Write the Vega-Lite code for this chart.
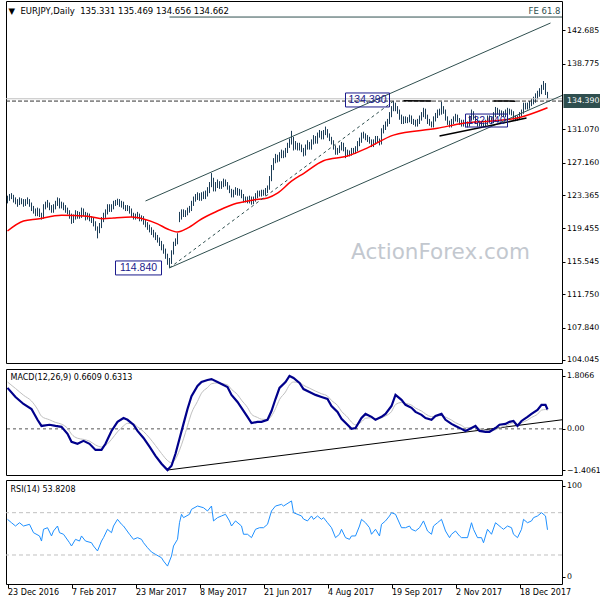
{
"$schema":"https://vega.github.io/schema/vega-lite/v6.json",
"padding":{"left":2,"top":0,"right":0,"bottom":0},
"background":"white",
"spacing":3,
"config":{"view":{"stroke":"black","strokeWidth":1},"axis":{"labelFont":"DejaVu Sans","labelFontSize":7.8,"labelColor":"black","tickColor":"black","domain":false,"grid":false,"tickSize":3,"labelPadding":1.5,"title":null},"text":{"font":"DejaVu Sans"}},
"datasets":{
"bars":[{"i":0,"h":123.3,"l":122.4},{"i":1,"h":123.5,"l":122.7},{"i":2,"h":123.6,"l":122.9},{"i":3,"h":123.4,"l":122.5},{"i":4,"h":123.1,"l":122.3},{"i":5,"h":122.9,"l":122.0},{"i":6,"h":123.1,"l":122.2},{"i":7,"h":123.0,"l":122.3},{"i":8,"h":122.9,"l":122.0},{"i":9,"h":122.9,"l":122.1},{"i":10,"h":123.1,"l":122.3},{"i":11,"h":122.9,"l":122.0},{"i":12,"h":122.5,"l":121.5},{"i":13,"h":122.1,"l":121.2},{"i":14,"h":121.8,"l":120.9},{"i":15,"h":121.9,"l":120.9},{"i":16,"h":121.8,"l":120.8},{"i":17,"h":121.3,"l":120.5},{"i":18,"h":122.3,"l":120.6},{"i":19,"h":122.6,"l":121.7},{"i":20,"h":122.8,"l":121.9},{"i":21,"h":122.5,"l":121.6},{"i":22,"h":122.2,"l":121.3},{"i":23,"h":122.3,"l":121.3},{"i":24,"h":122.7,"l":121.7},{"i":25,"h":123.1,"l":122.1},{"i":26,"h":123.0,"l":121.8},{"i":27,"h":122.6,"l":121.8},{"i":28,"h":122.5,"l":121.6},{"i":29,"h":122.2,"l":121.3},{"i":30,"h":121.9,"l":121.1},{"i":31,"h":121.6,"l":120.6},{"i":32,"h":121.2,"l":120.0},{"i":33,"h":121.1,"l":120.1},{"i":34,"h":121.6,"l":120.5},{"i":35,"h":121.5,"l":120.6},{"i":36,"h":121.4,"l":120.6},{"i":37,"h":121.9,"l":120.7},{"i":38,"h":121.8,"l":120.9},{"i":39,"h":121.4,"l":120.4},{"i":40,"h":121.3,"l":120.5},{"i":41,"h":121.2,"l":120.3},{"i":42,"h":120.9,"l":120.1},{"i":43,"h":120.8,"l":119.7},{"i":44,"h":120.3,"l":119.2},{"i":45,"h":119.7,"l":118.3},{"i":46,"h":120.1,"l":118.9},{"i":47,"h":120.8,"l":119.5},{"i":48,"h":121.3,"l":120.2},{"i":49,"h":121.7,"l":120.7},{"i":50,"h":122.3,"l":121.1},{"i":51,"h":122.3,"l":121.4},{"i":52,"h":122.3,"l":121.4},{"i":53,"h":122.7,"l":121.7},{"i":54,"h":122.8,"l":122.1},{"i":55,"h":122.95,"l":122.2},{"i":56,"h":122.9,"l":122.0},{"i":57,"h":122.7,"l":121.9},{"i":58,"h":122.6,"l":121.7},{"i":59,"h":122.2,"l":121.5},{"i":60,"h":122.2,"l":121.5},{"i":61,"h":122.1,"l":121.2},{"i":62,"h":121.8,"l":120.8},{"i":63,"h":121.3,"l":120.5},{"i":64,"h":121.2,"l":120.5},{"i":65,"h":121.4,"l":120.6},{"i":66,"h":121.2,"l":120.3},{"i":67,"h":121.0,"l":120.3},{"i":68,"h":120.9,"l":119.9},{"i":69,"h":120.5,"l":119.6},{"i":70,"h":120.2,"l":119.3},{"i":71,"h":119.9,"l":119.0},{"i":72,"h":119.6,"l":118.7},{"i":73,"h":119.3,"l":118.4},{"i":74,"h":119.0,"l":118.1},{"i":75,"h":118.7,"l":117.8},{"i":76,"h":118.4,"l":117.4},{"i":77,"h":118.0,"l":116.9},{"i":78,"h":117.6,"l":116.5},{"i":79,"h":117.1,"l":115.9},{"i":80,"h":116.5,"l":115.2},{"i":81,"h":116.0,"l":114.84},{"i":82,"h":116.9,"l":115.3},{"i":83,"h":117.9,"l":116.4},{"i":84,"h":118.3,"l":117.4},{"i":85,"h":118.9,"l":117.6},{"i":86,"h":121.4,"l":120.2},{"i":87,"h":121.7,"l":120.5},{"i":88,"h":121.7,"l":120.8},{"i":89,"h":121.6,"l":120.8},{"i":90,"h":121.9,"l":121.0},{"i":91,"h":122.1,"l":121.3},{"i":92,"h":122.7,"l":121.5},{"i":93,"h":123.2,"l":122.1},{"i":94,"h":123.5,"l":122.6},{"i":95,"h":123.7,"l":122.8},{"i":96,"h":123.6,"l":122.7},{"i":97,"h":123.7,"l":122.7},{"i":98,"h":123.8,"l":122.9},{"i":99,"h":123.9,"l":122.9},{"i":100,"h":124.3,"l":123.2},{"i":101,"h":124.9,"l":123.6},{"i":102,"h":125.95,"l":124.3},{"i":103,"h":125.4,"l":123.8},{"i":104,"h":124.9,"l":123.8},{"i":105,"h":125.2,"l":124.2},{"i":106,"h":125.0,"l":124.1},{"i":107,"h":125.0,"l":124.1},{"i":108,"h":125.3,"l":124.3},{"i":109,"h":125.2,"l":124.4},{"i":110,"h":124.9,"l":124.0},{"i":111,"h":124.5,"l":123.6},{"i":112,"h":124.1,"l":123.1},{"i":113,"h":124.0,"l":123.1},{"i":114,"h":124.3,"l":123.4},{"i":115,"h":124.2,"l":123.3},{"i":116,"h":124.1,"l":123.3},{"i":117,"h":124.0,"l":123.0},{"i":118,"h":123.5,"l":122.5},{"i":119,"h":123.2,"l":122.5},{"i":120,"h":123.2,"l":122.4},{"i":121,"h":123.3,"l":122.4},{"i":122,"h":123.2,"l":122.25},{"i":123,"h":123.2,"l":122.3},{"i":124,"h":123.6,"l":122.6},{"i":125,"h":123.9,"l":123.0},{"i":126,"h":123.9,"l":123.2},{"i":127,"h":124.0,"l":123.2},{"i":128,"h":124.0,"l":123.3},{"i":129,"h":124.2,"l":123.3},{"i":130,"h":124.5,"l":123.6},{"i":131,"h":125.6,"l":124.0},{"i":132,"h":126.9,"l":125.0},{"i":133,"h":127.7,"l":126.3},{"i":134,"h":128.2,"l":127.1},{"i":135,"h":128.1,"l":127.2},{"i":136,"h":128.4,"l":127.3},{"i":137,"h":128.7,"l":127.7},{"i":138,"h":128.6,"l":127.7},{"i":139,"h":128.9,"l":127.8},{"i":140,"h":129.5,"l":128.3},{"i":141,"h":130.0,"l":128.9},{"i":142,"h":130.9,"l":129.3},{"i":143,"h":130.2,"l":128.6},{"i":144,"h":129.7,"l":128.7},{"i":145,"h":129.5,"l":128.6},{"i":146,"h":129.5,"l":128.6},{"i":147,"h":129.3,"l":128.4},{"i":148,"h":128.9,"l":127.9},{"i":149,"h":129.3,"l":128.0},{"i":150,"h":129.8,"l":128.7},{"i":151,"h":129.6,"l":128.7},{"i":152,"h":129.9,"l":128.7},{"i":153,"h":130.4,"l":129.3},{"i":154,"h":130.3,"l":129.4},{"i":155,"h":130.7,"l":129.4},{"i":156,"h":131.0,"l":130.1},{"i":157,"h":130.9,"l":129.9},{"i":158,"h":131.0,"l":129.9},{"i":159,"h":131.4,"l":130.4},{"i":160,"h":131.1,"l":130.1},{"i":161,"h":130.6,"l":129.7},{"i":162,"h":130.2,"l":129.3},{"i":163,"h":129.8,"l":128.7},{"i":164,"h":129.2,"l":128.1},{"i":165,"h":128.9,"l":128.1},{"i":166,"h":129.2,"l":128.3},{"i":167,"h":129.6,"l":128.6},{"i":168,"h":129.5,"l":128.5},{"i":169,"h":129.0,"l":127.7},{"i":170,"h":128.7,"l":127.9},{"i":171,"h":128.6,"l":127.9},{"i":172,"h":128.9,"l":128.0},{"i":173,"h":128.9,"l":128.2},{"i":174,"h":129.1,"l":128.2},{"i":175,"h":129.7,"l":128.5},{"i":176,"h":130.1,"l":129.1},{"i":177,"h":130.7,"l":129.5},{"i":178,"h":130.8,"l":130.0},{"i":179,"h":130.6,"l":129.8},{"i":180,"h":130.4,"l":129.6},{"i":181,"h":130.2,"l":129.4},{"i":182,"h":129.9,"l":129.0},{"i":183,"h":129.9,"l":129.0},{"i":184,"h":130.3,"l":129.3},{"i":185,"h":130.3,"l":129.5},{"i":186,"h":130.0,"l":129.2},{"i":187,"h":131.2,"l":129.3},{"i":188,"h":131.6,"l":130.6},{"i":189,"h":132.0,"l":131.0},{"i":190,"h":132.3,"l":131.4},{"i":191,"h":133.1,"l":131.7},{"i":192,"h":133.8,"l":132.5},{"i":193,"h":134.39,"l":133.2},{"i":194,"h":134.2,"l":133.2},{"i":195,"h":133.8,"l":132.9},{"i":196,"h":133.4,"l":132.2},{"i":197,"h":132.8,"l":131.7},{"i":198,"h":132.6,"l":131.7},{"i":199,"h":132.6,"l":131.8},{"i":200,"h":132.5,"l":131.8},{"i":201,"h":132.8,"l":131.9},{"i":202,"h":132.7,"l":131.7},{"i":203,"h":132.3,"l":131.6},{"i":204,"h":132.2,"l":131.4},{"i":205,"h":132.3,"l":131.4},{"i":206,"h":132.7,"l":131.7},{"i":207,"h":133.1,"l":132.1},{"i":208,"h":133.6,"l":132.5},{"i":209,"h":133.5,"l":132.3},{"i":210,"h":132.8,"l":131.7},{"i":211,"h":132.3,"l":131.5},{"i":212,"h":132.0,"l":131.3},{"i":213,"h":132.6,"l":131.3},{"i":214,"h":133.0,"l":132.0},{"i":215,"h":133.4,"l":132.4},{"i":216,"h":133.5,"l":132.7},{"i":217,"h":134.3,"l":132.8},{"i":218,"h":133.8,"l":132.9},{"i":219,"h":133.4,"l":132.1},{"i":220,"h":132.6,"l":131.6},{"i":221,"h":132.1,"l":131.3},{"i":222,"h":132.3,"l":131.3},{"i":223,"h":132.6,"l":131.7},{"i":224,"h":132.9,"l":132.0},{"i":225,"h":132.8,"l":131.9},{"i":226,"h":132.4,"l":131.6},{"i":227,"h":132.2,"l":131.4},{"i":228,"h":132.2,"l":131.4},{"i":229,"h":132.1,"l":131.3},{"i":230,"h":132.0,"l":131.3},{"i":231,"h":132.7,"l":131.4},{"i":232,"h":133.4,"l":132.1},{"i":233,"h":133.2,"l":132.2},{"i":234,"h":132.7,"l":131.7},{"i":235,"h":132.2,"l":131.4},{"i":236,"h":132.1,"l":131.4},{"i":237,"h":132.0,"l":131.4},{"i":238,"h":131.9,"l":131.35},{"i":239,"h":132.2,"l":131.4},{"i":240,"h":132.7,"l":131.6},{"i":241,"h":132.7,"l":131.9},{"i":242,"h":132.5,"l":131.7},{"i":243,"h":133.1,"l":131.8},{"i":244,"h":133.7,"l":132.5},{"i":245,"h":133.6,"l":132.8},{"i":246,"h":133.4,"l":132.6},{"i":247,"h":133.3,"l":132.6},{"i":248,"h":133.2,"l":132.5},{"i":249,"h":133.4,"l":132.5},{"i":250,"h":133.6,"l":132.7},{"i":251,"h":133.5,"l":132.8},{"i":252,"h":133.4,"l":132.7},{"i":253,"h":133.2,"l":132.2},{"i":254,"h":132.7,"l":132.04},{"i":255,"h":132.7,"l":132.1},{"i":256,"h":133.1,"l":132.2},{"i":257,"h":133.4,"l":132.6},{"i":258,"h":134.2,"l":132.9},{"i":259,"h":134.2,"l":133.4},{"i":260,"h":134.2,"l":133.4},{"i":261,"h":134.4,"l":133.5},{"i":262,"h":134.7,"l":133.8},{"i":263,"h":134.9,"l":134.0},{"i":264,"h":135.3,"l":134.2},{"i":265,"h":135.6,"l":134.6},{"i":266,"h":135.9,"l":134.9},{"i":267,"h":136.3,"l":135.2},{"i":268,"h":136.74,"l":135.7},{"i":269,"h":136.5,"l":135.1},{"i":270,"h":135.469,"l":134.656}],
"ema":[{"i":0,"p":119.16},{"i":8,"p":120.33},{"i":15,"p":120.57},{"i":27,"p":121.0},{"i":40,"p":120.9},{"i":48,"p":120.6},{"i":53,"p":120.69},{"i":62,"p":120.8},{"i":68,"p":120.57},{"i":75,"p":120.0},{"i":80,"p":119.4},{"i":85,"p":119.05},{"i":90,"p":119.5},{"i":97,"p":120.57},{"i":105,"p":121.5},{"i":113,"p":122.3},{"i":123,"p":122.8},{"i":130,"p":123.03},{"i":135,"p":123.6},{"i":142,"p":125.0},{"i":148,"p":125.9},{"i":158,"p":127.4},{"i":170,"p":127.95},{"i":180,"p":128.9},{"i":193,"p":130.4},{"i":215,"p":131.2},{"i":228,"p":131.8},{"i":242,"p":132.05},{"i":255,"p":132.4},{"i":270,"p":133.6}],
"macd":[{"i":0,"m":1.40,"s":1.60},{"i":4,"m":1.09,"s":1.38},{"i":8,"m":0.85,"s":1.15},{"i":12,"m":0.68,"s":0.95},{"i":15,"m":0.31,"s":0.67},{"i":17,"m":0.10,"s":0.43},{"i":21,"m":0.14,"s":0.31},{"i":24,"m":0.10,"s":0.22},{"i":27,"m":0.07,"s":0.16},{"i":30,"m":-0.17,"s":0.02},{"i":32,"m":-0.44,"s":-0.18},{"i":35,"m":-0.51,"s":-0.32},{"i":38,"m":-0.41,"s":-0.36},{"i":41,"m":-0.51,"s":-0.42},{"i":44,"m":-0.72,"s":-0.55},{"i":47,"m":-0.72,"s":-0.62},{"i":49,"m":-0.51,"s":-0.57},{"i":52,"m":-0.07,"s":-0.36},{"i":55,"m":0.24,"s":-0.10},{"i":58,"m":0.37,"s":0.10},{"i":60,"m":0.31,"s":0.19},{"i":63,"m":0.14,"s":0.17},{"i":65,"m":-0.07,"s":0.07},{"i":68,"m":-0.31,"s":-0.09},{"i":71,"m":-0.61,"s":-0.31},{"i":74,"m":-0.92,"s":-0.57},{"i":77,"m":-1.19,"s":-0.84},{"i":80,"m":-1.4061,"s":-1.08},{"i":82,"m":-1.26,"s":-1.16},{"i":84,"m":-0.85,"s":-1.03},{"i":86,"m":-0.34,"s":-0.73},{"i":88,"m":0.17,"s":-0.34},{"i":90,"m":0.68,"s":0.10},{"i":92,"m":1.12,"s":0.54},{"i":95,"m":1.47,"s":0.94},{"i":97,"m":1.60,"s":1.22},{"i":100,"m":1.67,"s":1.41},{"i":102,"m":1.70,"s":1.54},{"i":105,"m":1.60,"s":1.57},{"i":107,"m":1.53,"s":1.55},{"i":110,"m":1.43,"s":1.50},{"i":112,"m":1.16,"s":1.35},{"i":115,"m":0.92,"s":1.17},{"i":117,"m":0.72,"s":0.98},{"i":120,"m":0.41,"s":0.73},{"i":122,"m":0.20,"s":0.50},{"i":125,"m":0.24,"s":0.39},{"i":127,"m":0.24,"s":0.33},{"i":130,"m":0.31,"s":0.32},{"i":132,"m":0.61,"s":0.44},{"i":134,"m":1.02,"s":0.69},{"i":136,"m":1.40,"s":1.00},{"i":139,"m":1.60,"s":1.26},{"i":141,"m":1.8066,"s":1.50},{"i":143,"m":1.74,"s":1.60},{"i":146,"m":1.57,"s":1.59},{"i":148,"m":1.36,"s":1.49},{"i":151,"m":1.26,"s":1.39},{"i":154,"m":1.16,"s":1.29},{"i":157,"m":1.09,"s":1.20},{"i":160,"m":1.02,"s":1.12},{"i":162,"m":0.78,"s":0.97},{"i":165,"m":0.58,"s":0.80},{"i":167,"m":0.34,"s":0.60},{"i":170,"m":0.14,"s":0.40},{"i":172,"m":0.00,"s":0.23},{"i":174,"m":0.03,"s":0.14},{"i":177,"m":0.37,"s":0.24},{"i":179,"m":0.51,"s":0.36},{"i":182,"m":0.41,"s":0.38},{"i":184,"m":0.31,"s":0.35},{"i":187,"m":0.41,"s":0.38},{"i":189,"m":0.51,"s":0.44},{"i":192,"m":0.78,"s":0.59},{"i":194,"m":1.16,"s":0.83},{"i":197,"m":0.99,"s":0.90},{"i":199,"m":0.82,"s":0.87},{"i":202,"m":0.72,"s":0.81},{"i":204,"m":0.58,"s":0.71},{"i":207,"m":0.48,"s":0.61},{"i":209,"m":0.37,"s":0.51},{"i":212,"m":0.31,"s":0.42},{"i":214,"m":0.44,"s":0.43},{"i":217,"m":0.51,"s":0.46},{"i":219,"m":0.31,"s":0.40},{"i":222,"m":0.17,"s":0.30},{"i":224,"m":0.10,"s":0.21},{"i":227,"m":0.00,"s":0.12},{"i":229,"m":-0.07,"s":0.04},{"i":232,"m":0.03,"s":0.04},{"i":234,"m":0.10,"s":0.07},{"i":236,"m":-0.07,"s":0.01},{"i":239,"m":-0.10,"s":-0.04},{"i":241,"m":-0.10,"s":-0.07},{"i":244,"m":0.03,"s":-0.03},{"i":246,"m":0.14,"s":0.04},{"i":249,"m":0.17,"s":0.10},{"i":251,"m":0.24,"s":0.16},{"i":253,"m":0.27,"s":0.21},{"i":255,"m":0.10,"s":0.16},{"i":257,"m":0.27,"s":0.21},{"i":260,"m":0.41,"s":0.30},{"i":262,"m":0.51,"s":0.39},{"i":265,"m":0.65,"s":0.50},{"i":267,"m":0.82,"s":0.64},{"i":269,"m":0.82,"s":0.66},{"i":270,"m":0.6609,"s":0.6313}],
"rsi":[{"i":0,"r":63.7},{"i":2,"r":60.5},{"i":4,"r":57.4},{"i":6,"r":60.5},{"i":8,"r":57.4},{"i":11,"r":59.0},{"i":13,"r":51.1},{"i":16,"r":48.0},{"i":17,"r":43.2},{"i":18,"r":54.3},{"i":20,"r":55.8},{"i":22,"r":48.0},{"i":23,"r":52.7},{"i":25,"r":57.4},{"i":26,"r":51.1},{"i":28,"r":49.6},{"i":31,"r":41.6},{"i":32,"r":38.5},{"i":34,"r":44.8},{"i":36,"r":43.2},{"i":37,"r":48.0},{"i":39,"r":43.2},{"i":42,"r":41.6},{"i":43,"r":38.5},{"i":45,"r":33.8},{"i":47,"r":43.2},{"i":48,"r":46.4},{"i":50,"r":54.3},{"i":52,"r":51.1},{"i":53,"r":57.4},{"i":55,"r":63.7},{"i":57,"r":59.0},{"i":58,"r":57.4},{"i":61,"r":49.6},{"i":63,"r":44.8},{"i":65,"r":46.4},{"i":67,"r":44.8},{"i":68,"r":41.6},{"i":70,"r":36.9},{"i":72,"r":32.8},{"i":74,"r":30.6},{"i":77,"r":27.4},{"i":78,"r":24.3},{"i":80,"r":19.5},{"i":82,"r":29.0},{"i":83,"r":38.5},{"i":85,"r":44.8},{"i":86,"r":60.5},{"i":87,"r":68.5},{"i":88,"r":65.3},{"i":91,"r":68.5},{"i":92,"r":73.2},{"i":95,"r":76.3},{"i":98,"r":74.7},{"i":100,"r":71.6},{"i":102,"r":76.3},{"i":103,"r":62.2},{"i":105,"r":65.3},{"i":107,"r":66.9},{"i":109,"r":68.5},{"i":111,"r":62.2},{"i":112,"r":57.4},{"i":114,"r":62.2},{"i":117,"r":57.4},{"i":118,"r":49.6},{"i":120,"r":49.6},{"i":122,"r":46.4},{"i":124,"r":54.3},{"i":126,"r":55.8},{"i":128,"r":55.8},{"i":130,"r":59.0},{"i":132,"r":71.6},{"i":134,"r":76.3},{"i":137,"r":77.9},{"i":138,"r":76.3},{"i":142,"r":81.1},{"i":143,"r":70.0},{"i":147,"r":66.9},{"i":148,"r":64.0},{"i":150,"r":62.2},{"i":152,"r":66.9},{"i":153,"r":63.7},{"i":155,"r":66.9},{"i":157,"r":63.7},{"i":158,"r":65.3},{"i":160,"r":60.5},{"i":162,"r":55.8},{"i":164,"r":46.4},{"i":166,"r":49.6},{"i":167,"r":54.3},{"i":169,"r":46.4},{"i":171,"r":44.8},{"i":172,"r":48.0},{"i":174,"r":48.0},{"i":176,"r":57.4},{"i":177,"r":63.7},{"i":179,"r":60.5},{"i":181,"r":55.8},{"i":182,"r":49.6},{"i":184,"r":54.3},{"i":186,"r":48.0},{"i":187,"r":59.0},{"i":189,"r":62.2},{"i":191,"r":66.9},{"i":192,"r":70.0},{"i":194,"r":68.5},{"i":197,"r":55.8},{"i":199,"r":55.8},{"i":201,"r":57.4},{"i":202,"r":54.3},{"i":204,"r":52.7},{"i":206,"r":55.8},{"i":208,"r":62.2},{"i":210,"r":52.7},{"i":212,"r":49.6},{"i":213,"r":57.4},{"i":215,"r":60.5},{"i":217,"r":63.7},{"i":219,"r":52.7},{"i":221,"r":46.4},{"i":222,"r":49.6},{"i":224,"r":52.7},{"i":226,"r":48.0},{"i":227,"r":46.4},{"i":230,"r":46.4},{"i":232,"r":60.5},{"i":233,"r":54.3},{"i":235,"r":46.4},{"i":237,"r":46.4},{"i":238,"r":41.6},{"i":240,"r":54.3},{"i":242,"r":49.6},{"i":244,"r":60.5},{"i":247,"r":55.8},{"i":248,"r":54.3},{"i":250,"r":57.4},{"i":252,"r":55.8},{"i":253,"r":49.6},{"i":255,"r":46.4},{"i":257,"r":54.3},{"i":258,"r":63.7},{"i":260,"r":60.5},{"i":262,"r":62.2},{"i":263,"r":65.3},{"i":265,"r":66.9},{"i":267,"r":70.0},{"i":269,"r":66.9},{"i":270,"r":53.82}],
"tl":[{"g":"up","i":69,"p":122.68},{"g":"up","i":271.5,"p":143.54},{"g":"lo","i":81,"p":114.84},{"g":"lo","i":277.25,"p":135.05},{"g":"fe","i":81,"p":144.24},{"g":"fe","i":277.25,"p":144.24},{"g":"dash","i":81,"p":114.84},{"g":"dash","i":193,"p":134.39},{"g":"sup","i":216,"p":130.3},{"g":"sup","i":259.5,"p":132.4},{"g":"res1","i":198,"p":134.42},{"g":"res1","i":212,"p":134.41},{"g":"res2","i":243,"p":134.4},{"g":"res2","i":254,"p":134.38}],
"lab":[{"i1":54,"i2":77,"p1":114.01,"p2":115.65,"ic":65.5,"pc":114.84,"t":"114.840"},{"i1":169,"i2":191,"p1":133.7,"p2":135.34,"ic":180,"pc":134.52,"t":"134.390"},{"i1":229,"i2":250,"p1":131.35,"p2":132.87,"ic":239.5,"pc":132.1,"t":"132.040"}]
},
"vconcat":[
{"width":556,"height":362,
"layer":[
{"data":{"name":"bars"},"mark":{"type":"rule","color":"#1c3d57","strokeWidth":1},
"encoding":{"x":{"field":"i","type":"quantitative","scale":{"domain":[-0.75,277.25],"nice":false,"zero":false},"axis":null},
"y":{"field":"l","type":"quantitative","scale":{"domain":[103.69,146.12],"nice":false,"zero":false},"axis":{"orient":"right","values":[104.045,107.84,111.75,115.545,119.455,123.365,127.16,131.07,138.775,142.685],"format":".3f"}},
"y2":{"field":"h"}}},
{"data":{"values":[{"p":134.662}]},"mark":{"type":"rule","color":"#c0c0c0","strokeWidth":1},"encoding":{"y":{"field":"p","type":"quantitative","scale":{"domain":[103.69,146.12],"nice":false,"zero":false}}}},
{"data":{"values":[{"p":134.39}]},"mark":{"type":"rule","color":"#333333","strokeWidth":1,"strokeDash":[4,2]},"encoding":{"y":{"field":"p","type":"quantitative","scale":{"domain":[103.69,146.12],"nice":false,"zero":false}}}},
{"data":{"name":"ema"},"mark":{"type":"line","color":"#ff0000","strokeWidth":1.5,"interpolate":"monotone"},
"encoding":{"x":{"field":"i","type":"quantitative","scale":{"domain":[-0.75,277.25],"nice":false,"zero":false}},"y":{"field":"p","type":"quantitative","scale":{"domain":[103.69,146.12],"nice":false,"zero":false}}}},
{"data":{"name":"tl"},"transform":[{"filter":"datum.g=='up'||datum.g=='lo'||datum.g=='fe'"}],"mark":{"type":"line","color":"#2f4f4f","strokeWidth":1},
"encoding":{"x":{"field":"i","type":"quantitative","scale":{"domain":[-0.75,277.25],"nice":false,"zero":false}},"y":{"field":"p","type":"quantitative","scale":{"domain":[103.69,146.12],"nice":false,"zero":false}},"detail":{"field":"g"}}},
{"data":{"name":"tl"},"transform":[{"filter":"datum.g=='dash'"}],"mark":{"type":"line","color":"#2f4f4f","strokeWidth":1,"strokeDash":[3,3]},
"encoding":{"x":{"field":"i","type":"quantitative","scale":{"domain":[-0.75,277.25],"nice":false,"zero":false}},"y":{"field":"p","type":"quantitative","scale":{"domain":[103.69,146.12],"nice":false,"zero":false}},"detail":{"field":"g"}}},
{"data":{"name":"tl"},"transform":[{"filter":"datum.g=='sup'||datum.g=='res1'||datum.g=='res2'"}],"mark":{"type":"line","color":"#000000","strokeWidth":1.5},
"encoding":{"x":{"field":"i","type":"quantitative","scale":{"domain":[-0.75,277.25],"nice":false,"zero":false}},"y":{"field":"p","type":"quantitative","scale":{"domain":[103.69,146.12],"nice":false,"zero":false}},"detail":{"field":"g"}}},
{"data":{"name":"lab"},"mark":{"type":"rect","fill":"white","fillOpacity":0,"stroke":"#1a1a8c","strokeWidth":1},
"encoding":{"x":{"field":"i1","type":"quantitative","scale":{"domain":[-0.75,277.25],"nice":false,"zero":false}},"x2":{"field":"i2"},"y":{"field":"p1","type":"quantitative","scale":{"domain":[103.69,146.12],"nice":false,"zero":false}},"y2":{"field":"p2"}}},
{"data":{"name":"lab"},"mark":{"type":"text","font":"Liberation Sans","fontSize":10.5,"color":"#1a1a8c","align":"center","baseline":"middle"},
"encoding":{"x":{"field":"ic","type":"quantitative","scale":{"domain":[-0.75,277.25],"nice":false,"zero":false}},"y":{"field":"pc","type":"quantitative","scale":{"domain":[103.69,146.12],"nice":false,"zero":false}},"text":{"field":"t"}}},
{"data":{"values":[{"i":216.5,"p":116.58,"t":"ActionForex.com"}]},"mark":{"type":"text","font":"DejaVu Sans","fontSize":21.5,"color":"#c3c8cf","align":"center","baseline":"middle"},
"encoding":{"x":{"field":"i","type":"quantitative","scale":{"domain":[-0.75,277.25],"nice":false,"zero":false}},"y":{"field":"p","type":"quantitative","scale":{"domain":[103.69,146.12],"nice":false,"zero":false}},"text":{"field":"t"}}},
{"data":{"values":[{"i":0.5,"p":144.95,"t":"▼\u00a0\u00a0EURJPY,Daily\u00a0\u00a0135.331 135.469 134.656 134.662"}]},"mark":{"type":"text","fontSize":8.5,"color":"black","align":"left","baseline":"middle"},
"encoding":{"x":{"field":"i","type":"quantitative","scale":{"domain":[-0.75,277.25],"nice":false,"zero":false}},"y":{"field":"p","type":"quantitative","scale":{"domain":[103.69,146.12],"nice":false,"zero":false}},"text":{"field":"t"}}},
{"data":{"values":[{"i":276.5,"p":144.95,"t":"FE 61.8"}]},"mark":{"type":"text","fontSize":8.5,"color":"#2f4f4f","align":"right","baseline":"middle"},
"encoding":{"x":{"field":"i","type":"quantitative","scale":{"domain":[-0.75,277.25],"nice":false,"zero":false}},"y":{"field":"p","type":"quantitative","scale":{"domain":[103.69,146.12],"nice":false,"zero":false}},"text":{"field":"t"}}},
{"data":{"values":[{"i1":278,"i2":297.5,"p1":133.57,"p2":135.21}]},"mark":{"type":"rect","fill":"#2f4f4f"},
"encoding":{"x":{"field":"i1","type":"quantitative","scale":{"domain":[-0.75,277.25],"nice":false,"zero":false}},"x2":{"field":"i2"},"y":{"field":"p1","type":"quantitative","scale":{"domain":[103.69,146.12],"nice":false,"zero":false}},"y2":{"field":"p2"}}},
{"data":{"values":[{"i":279.8,"p":134.39,"t":"134.390"}]},"mark":{"type":"text","fontSize":7.8,"color":"white","align":"left","baseline":"middle"},
"encoding":{"x":{"field":"i","type":"quantitative","scale":{"domain":[-0.75,277.25],"nice":false,"zero":false}},"y":{"field":"p","type":"quantitative","scale":{"domain":[103.69,146.12],"nice":false,"zero":false}},"text":{"field":"t"}}}
]},
{"width":556,"height":106,
"layer":[
{"data":{"values":[{"m":0}]},"mark":{"type":"rule","color":"#555555","strokeWidth":1,"strokeDash":[3,3]},"encoding":{"y":{"field":"m","type":"quantitative","scale":{"domain":[-1.576,2.045],"nice":false,"zero":false},"axis":{"orient":"right","values":[1.8066,0,-1.4061],"labelExpr":"datum.value==0?'0.00':format(datum.value,'.4f')"}}}},
{"data":{"values":[{"i":80,"m":-1.4061},{"i":277.25,"m":0.31}]},"mark":{"type":"line","color":"black","strokeWidth":1},
"encoding":{"x":{"field":"i","type":"quantitative","scale":{"domain":[-0.75,277.25],"nice":false,"zero":false},"axis":null},"y":{"field":"m","type":"quantitative","scale":{"domain":[-1.576,2.045],"nice":false,"zero":false}}}},
{"data":{"name":"macd"},"mark":{"type":"line","color":"#c0c0c0","strokeWidth":1,"interpolate":"monotone"},
"encoding":{"x":{"field":"i","type":"quantitative","scale":{"domain":[-0.75,277.25],"nice":false,"zero":false},"axis":null},"y":{"field":"s","type":"quantitative","scale":{"domain":[-1.576,2.045],"nice":false,"zero":false}}}},
{"data":{"name":"macd"},"mark":{"type":"line","color":"#00008b","strokeWidth":2.2},
"encoding":{"x":{"field":"i","type":"quantitative","scale":{"domain":[-0.75,277.25],"nice":false,"zero":false},"axis":null},"y":{"field":"m","type":"quantitative","scale":{"domain":[-1.576,2.045],"nice":false,"zero":false}}}},
{"data":{"values":[{"i":1.5,"m":1.74,"t":"MACD(12,26,9) 0.6609 0.6313"}]},"mark":{"type":"text","fontSize":8,"color":"black","align":"left","baseline":"middle"},
"encoding":{"x":{"field":"i","type":"quantitative","scale":{"domain":[-0.75,277.25],"nice":false,"zero":false},"axis":null},"y":{"field":"m","type":"quantitative","scale":{"domain":[-1.576,2.045],"nice":false,"zero":false}},"text":{"field":"t"}}}
]},
{"width":556,"height":104,
"layer":[
{"data":{"values":[{"r":70},{"r":30}]},"mark":{"type":"rule","color":"#c0c0c0","strokeWidth":1,"strokeDash":[4,3]},"encoding":{"y":{"field":"r","type":"quantitative","scale":{"domain":[2.58,100.9],"nice":false,"zero":false},"axis":{"orient":"right","values":[95.5,70,30,9.5],"labelExpr":"datum.value>90?'100':(datum.value<10?'0':datum.label)"}}}},
{"data":{"name":"rsi"},"mark":{"type":"line","color":"#1e90ff","strokeWidth":1},
"encoding":{"x":{"field":"i","type":"quantitative","scale":{"domain":[-0.75,277.25],"nice":false,"zero":false},"axis":{"values":[0,32,64,96,128,160,192,224,256],"labelExpr":"['23 Dec 2016','7 Feb 2017','23 Mar 2017','8 May 2017','21 Jun 2017','4 Aug 2017','19 Sep 2017','2 Nov 2017','18 Dec 2017'][round(datum.value/32)]","labelAlign":"left","labelPadding":0,"tickSize":4,"labelFontSize":8,"labelFlush":false,"labelOverlap":false,"labelBound":false}},"y":{"field":"r","type":"quantitative","scale":{"domain":[2.58,100.9],"nice":false,"zero":false}}}},
{"data":{"values":[{"i":1.5,"r":91.5,"t":"RSI(14) 53.8208"}]},"mark":{"type":"text","fontSize":8,"color":"black","align":"left","baseline":"middle"},
"encoding":{"x":{"field":"i","type":"quantitative","scale":{"domain":[-0.75,277.25],"nice":false,"zero":false}},"y":{"field":"r","type":"quantitative","scale":{"domain":[2.58,100.9],"nice":false,"zero":false}},"text":{"field":"t"}}}
]}
]
}
